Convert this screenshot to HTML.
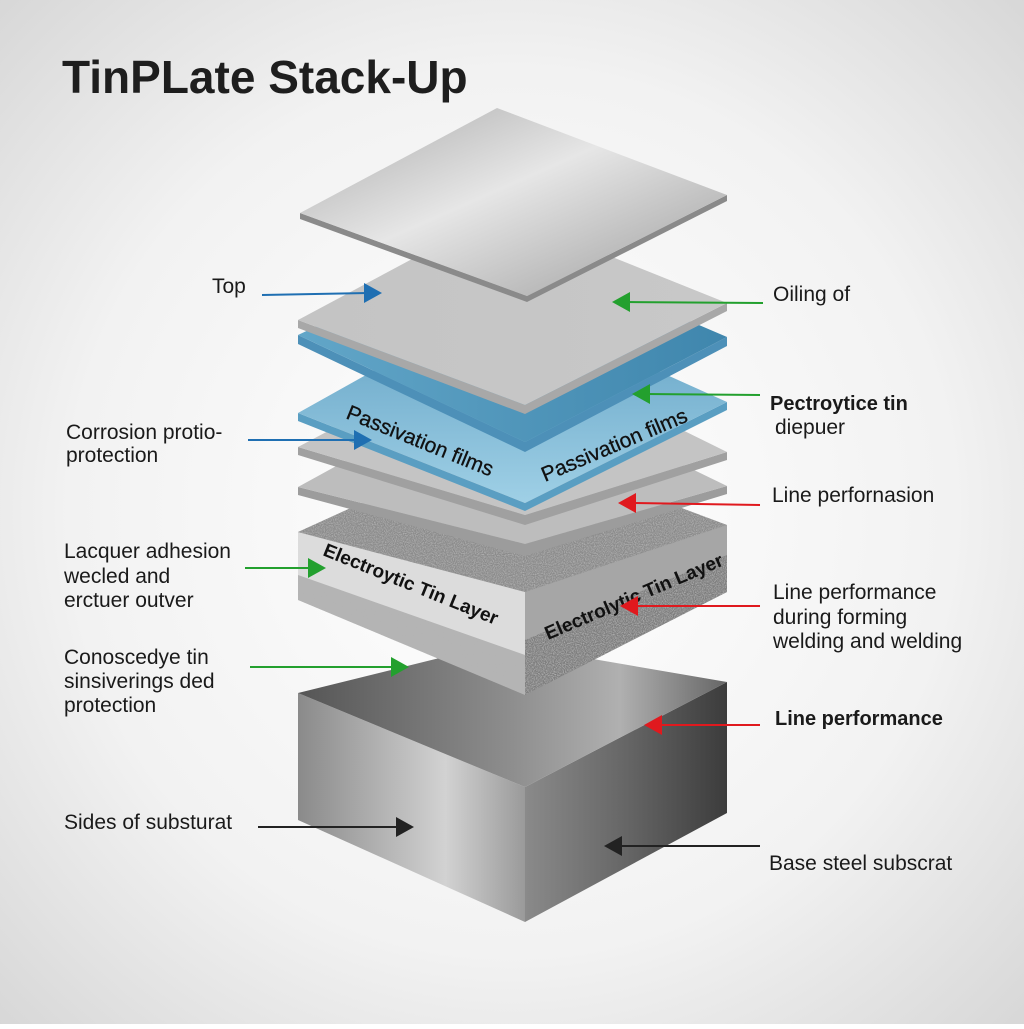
<!DOCTYPE html>
<html><head><meta charset="utf-8"><style>
html,body{margin:0;padding:0}
body{width:1024px;height:1024px;overflow:hidden;font-family:"Liberation Sans",sans-serif}
</style></head><body>
<svg width="1024" height="1024" viewBox="0 0 1024 1024" xmlns="http://www.w3.org/2000/svg" font-family="Liberation Sans, sans-serif">
<defs>
<radialGradient id="bg" cx="50%" cy="50%" r="72%">
<stop offset="0" stop-color="#ffffff"/><stop offset="0.6" stop-color="#f2f2f2"/><stop offset="1" stop-color="#d6d6d6"/>
</radialGradient>
<linearGradient id="topPlate" x1="0" y1="0" x2="1" y2="1">
<stop offset="0" stop-color="#a8a8a8"/><stop offset="0.45" stop-color="#e6e6e6"/><stop offset="1" stop-color="#9a9a9a"/>
</linearGradient>
<linearGradient id="gray2" x1="0" y1="0" x2="1" y2="0">
<stop offset="0" stop-color="#c4c4c4"/><stop offset="1" stop-color="#c8c8c8"/>
</linearGradient>
<linearGradient id="blue1" x1="0" y1="0" x2="1" y2="0">
<stop offset="0" stop-color="#62a6c8"/><stop offset="1" stop-color="#3f86ad"/>
</linearGradient>
<linearGradient id="blue2" x1="0" y1="0" x2="0" y2="1">
<stop offset="0" stop-color="#5f9fc2"/><stop offset="1" stop-color="#9fd0e6"/>
</linearGradient>
<linearGradient id="baseL" x1="0" y1="0" x2="1" y2="0">
<stop offset="0" stop-color="#8a8a8a"/><stop offset="0.65" stop-color="#d2d2d2"/><stop offset="1" stop-color="#9a9a9a"/>
</linearGradient>
<linearGradient id="baseR" x1="0" y1="0" x2="1" y2="0">
<stop offset="0" stop-color="#8a8a8a"/><stop offset="0.5" stop-color="#666"/><stop offset="1" stop-color="#3c3c3c"/>
</linearGradient>
<linearGradient id="baseT" x1="0" y1="0" x2="1" y2="0">
<stop offset="0" stop-color="#555"/><stop offset="0.5" stop-color="#8e8e8e"/><stop offset="0.75" stop-color="#b0b0b0"/><stop offset="1" stop-color="#666"/>
</linearGradient>
<filter id="spk" x="0" y="0" width="100%" height="100%">
<feTurbulence type="fractalNoise" baseFrequency="0.9" numOctaves="2" seed="3"/>
<feColorMatrix type="matrix" values="0 0 0 0 0.45  0 0 0 0 0.45  0 0 0 0 0.45  0 0 0 -2.2 1.4"/>
<feComposite in2="SourceGraphic" operator="in"/>
</filter>
</defs>
<rect width="1024" height="1024" fill="url(#bg)"/>
<text x="62" y="93" font-size="46" font-weight="bold" fill="#1e1e1e">TinPLate Stack-Up</text>

<polygon points="298,693 525,787 525,922 298,820" fill="url(#baseL)"/>
<polygon points="525,787 727,682 727,813 525,922" fill="url(#baseR)"/>
<polygon points="298,693 500,643 727,682 525,787" fill="url(#baseT)"/>

<polygon points="298,532 525,592 525,695 298,600" fill="#b4b4b4"/>
<polygon points="298,532 525,592 525,695 298,600" fill="#b4b4b4" filter="url(#spk)"/>
<polygon points="298,532 525,590 525,655 298,575" fill="#dcdcdc"/>
<polygon points="525,592 727,525 727,592 525,695" fill="#7c7c7c"/>
<polygon points="525,592 727,525 727,592 525,695" fill="#7c7c7c" filter="url(#spk)"/>
<polygon points="525,592 727,525 727,555 525,640" fill="#a6a6a6"/>
<polygon points="298,532 500,440 727,525 525,592" fill="#8a8a8a"/>
<polygon points="298,532 500,440 727,525 525,592" fill="#8a8a8a" filter="url(#spk)"/>
<text transform="translate(322,555) rotate(22)" font-size="19" font-weight="bold" fill="#111">Electroytic Tin Layer</text>
<text transform="translate(548,640) rotate(-23)" font-size="19" font-weight="bold" fill="#111">Electrolytic Tin Layer</text>

<polygon points="298,487 525,544 727,486 727,494 525,556 298,495" fill="#9c9c9c"/>
<polygon points="298,487 500,376 727,486 525,544" fill="#bdbdbd"/>
<polygon points="298,447 525,515 727,452 727,460 525,525 298,455" fill="#a0a0a0"/>
<polygon points="298,447 500,340 727,452 525,515" fill="#c4c4c4"/>
<polygon points="298,413 525,503 727,402 727,410 525,511 298,421" fill="#5a9ec2"/>
<polygon points="298,413 500,300 727,402 525,503" fill="url(#blue2)"/>
<text transform="translate(345,418) rotate(22)" font-size="21" fill="#111" stroke="#111" stroke-width="0.3">Passivation films</text>
<text transform="translate(545,482) rotate(-23)" font-size="21" fill="#111" stroke="#111" stroke-width="0.3">Passivation films</text>
<polygon points="298,335 525,442 727,337 727,346 525,452 298,344" fill="#4d90b8"/>
<polygon points="298,335 500,240 727,337 525,442" fill="url(#blue1)"/>
<polygon points="298,320 525,405 727,303 727,311 525,414 298,328" fill="#a8a8a8"/>
<polygon points="298,320 500,212 727,303 525,405" fill="url(#gray2)"/>
<polygon points="300,213 527,296 727,195 727,201 527,302 300,219" fill="#8a8a8a"/>
<polygon points="300,213 497,108 727,195 527,296" fill="url(#topPlate)"/>

<g stroke-width="2">
<line x1="262" y1="295" x2="368" y2="293" stroke="#1f6fb2"/><polygon points="382,293 364,283 364,303" fill="#1f6fb2"/>
<line x1="248" y1="440" x2="358" y2="440" stroke="#1f6fb2"/><polygon points="372,440 354,430 354,450" fill="#1f6fb2"/>
<line x1="763" y1="303" x2="626" y2="302" stroke="#23a02e"/><polygon points="612,302 630,292 630,312" fill="#23a02e"/>
<line x1="760" y1="395" x2="646" y2="394" stroke="#23a02e"/><polygon points="632,394 650,384 650,404" fill="#23a02e"/>
<line x1="245" y1="568" x2="312" y2="568" stroke="#23a02e"/><polygon points="326,568 308,558 308,578" fill="#23a02e"/>
<line x1="250" y1="667" x2="395" y2="667" stroke="#23a02e"/><polygon points="409,667 391,657 391,677" fill="#23a02e"/>
<line x1="760" y1="505" x2="632" y2="503" stroke="#e0191e"/><polygon points="618,503 636,493 636,513" fill="#e0191e"/>
<line x1="760" y1="606" x2="634" y2="606" stroke="#e0191e"/><polygon points="620,606 638,596 638,616" fill="#e0191e"/>
<line x1="760" y1="725" x2="658" y2="725" stroke="#e0191e"/><polygon points="644,725 662,715 662,735" fill="#e0191e"/>
<line x1="258" y1="827" x2="400" y2="827" stroke="#222"/><polygon points="414,827 396,817 396,837" fill="#222"/>
<line x1="760" y1="846" x2="618" y2="846" stroke="#222"/><polygon points="604,846 622,836 622,856" fill="#222"/>
</g>

<g font-size="21" fill="#1a1a1a">
<text x="212" y="293">Top</text>
<text x="773" y="301">Oiling of</text>
<text x="66" y="439">Corrosion protio-</text>
<text x="66" y="462">protection</text>
<text x="770" y="410" font-weight="bold" font-size="20">Pectroytice tin</text>
<text x="775" y="434">diepuer</text>
<text x="772" y="502">Line perfornasion</text>
<text x="64" y="558">Lacquer adhesion</text>
<text x="64" y="583">wecled and</text>
<text x="64" y="607">erctuer outver</text>
<text x="773" y="599">Line performance</text>
<text x="773" y="624">during forming</text>
<text x="773" y="648">welding and welding</text>
<text x="64" y="664">Conoscedye tin</text>
<text x="64" y="688">sinsiverings ded</text>
<text x="64" y="712">protection</text>
<text x="775" y="725" font-weight="bold" font-size="20">Line performance</text>
<text x="64" y="829">Sides of substurat</text>
<text x="769" y="870">Base steel subscrat</text>
</g>
</svg>
</body></html>
